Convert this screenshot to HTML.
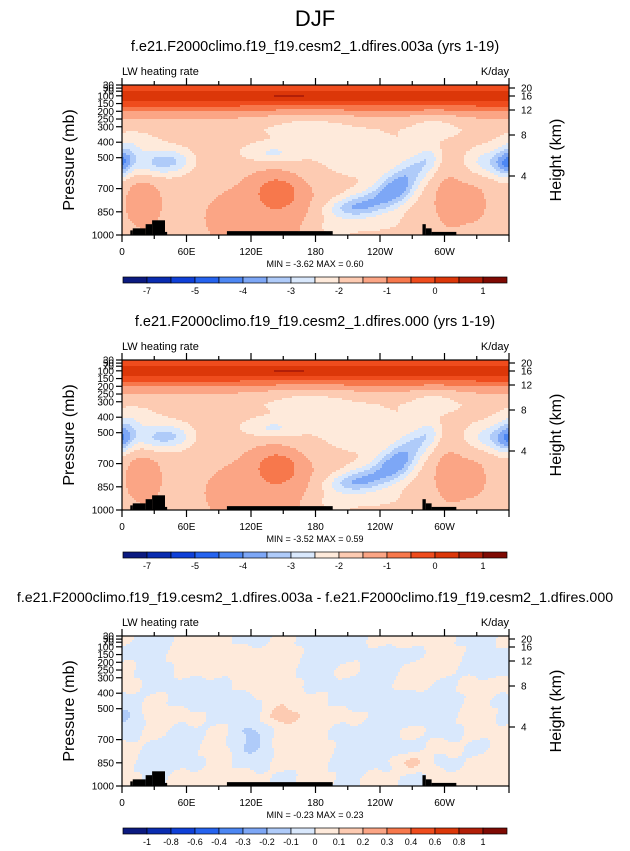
<!DOCTYPE html>
<html><head><meta charset="utf-8"><style>
html,body{margin:0;padding:0;background:#fff;}
svg{display:block;font-family:"Liberation Sans",Arial,sans-serif;}
</style></head><body>
<svg id="fig" width="630" height="851" viewBox="0 0 630 851" xmlns="http://www.w3.org/2000/svg">
<text x="315" y="26" text-anchor="middle" font-size="22">DJF</text>
</svg>
<script>
// ---- data ----
const pLabels=[30,50,70,100,150,200,250,300,400,500,700,850,1000];
const hLabels=[20,16,12,8,4];
const hPos=[3,11,25,50,91];
const lonTicks=[0,60,120,180,240,300];
const lonLabels=['0','60E','120E','180','120W','60W'];
const colors=['#0b1a80','#0a2cb0','#0f40d8','#2563ef','#4d87f3','#7da7f6','#afcbf9','#d9e8fc','#feeadb','#fdcbb2','#fba585','#f7784c','#ef4c1d','#dc3709','#b21f08','#7f0a03'];
const levelsAbs=[-7,-6,-5,-4.5,-4,-3.5,-3,-2.5,-2,-1.5,-1,-0.5,0,0.5,1];
const cbLabelsAbs=['-7','','-5','','-4','','-3','','-2','','-1','','0','','1'];
const levelsDiff=[-1,-0.8,-0.6,-0.4,-0.3,-0.2,-0.1,0,0.1,0.2,0.3,0.4,0.6,0.8,1];
const cbLabelsDiff=['-1','-0.8','-0.6','-0.4','-0.3','-0.2','-0.1','0','0.1','0.2','0.3','0.4','0.6','0.8','1'];
// base vertical profile
const profP=[30,60,80,100,130,160,190,220,260,320,400,500,600,700,850,1000];
const profV=[-0.3,-0.1,0.2,0.3,0.1,-0.4,-0.9,-1.3,-1.6,-1.85,-1.85,-1.85,-1.85,-1.8,-1.75,-1.75];
// blobs: lon, p, amplitude, lon-width, p-width
const blobs1=[
 [170,300,-0.45,30,70],[290,300,-0.45,18,60],[215,480,-0.45,30,110],[12,400,-0.35,15,50],
 [3,500,-1.0,9,60],[33,530,-1.3,14,60],[52,520,-0.6,10,50],[140,470,-0.85,20,45],[345,530,-1.1,16,60],[358,560,-0.9,7,60],
 [210,830,-1.1,16,45],[230,790,-1.3,16,55],[250,720,-1.55,12,65],[262,650,-1.2,10,65],[275,560,-0.9,10,65],[286,500,-0.7,7,55],
 [145,720,0.75,13,70],[140,800,0.55,35,220],[20,770,0.55,14,150],[305,770,0.55,12,150],[330,780,0.35,10,130],[95,900,0.45,12,90],
 [195,950,-0.4,15,60],[235,930,-0.3,30,60],[155,100,0.4,12,10]];
const blobs2=[
 [170,300,-0.45,30,70],[290,300,-0.45,18,60],[215,480,-0.45,30,110],[12,400,-0.35,15,50],
 [3,500,-1.0,9,60],[33,530,-1.25,14,60],[52,520,-0.6,10,50],[140,470,-0.85,20,45],[345,530,-1.05,16,60],[358,560,-0.9,7,60],
 [210,830,-1.1,16,45],[230,790,-1.3,16,55],[250,720,-1.5,12,65],[262,650,-1.2,10,65],[275,560,-0.9,10,65],[286,500,-0.7,7,55],
 [145,720,0.75,13,70],[140,800,0.55,35,220],[20,770,0.55,14,150],[305,770,0.55,12,150],[330,780,0.35,10,130],[95,900,0.45,12,90],
 [195,950,-0.4,15,60],[235,930,-0.3,30,60],[155,100,0.4,12,10]];
// difference field coarse grid
const dLons=[0,30,60,90,120,150,180,210,240,270,300,330,360];
const dPs=[50,150,250,350,450,550,650,750,850,950];
const dRows=[
 [.02,-.03,.03,.03,-.03,.03,-.03,-.03,.03,.03,.02,-.02,.02],
 [-.02,-.03,.03,.03,.03,.03,-.03,-.03,-.03,-.03,.03,-.03,-.02],
 [.03,-.03,.03,.03,.05,.03,-.03,.03,-.03,.03,.03,-.03,-.03],
 [.03,-.03,-.03,-.03,.03,.03,-.03,-.03,-.03,.03,-.03,.03,.03],
 [-.05,.03,-.03,-.03,-.02,.08,.03,-.03,-.03,-.08,-.03,.03,-.02],
 [-.12,.03,.03,-.03,-.03,.15,.03,.03,-.03,-.08,-.03,.03,-.03],
 [-.03,.03,-.03,.03,-.12,.03,.03,-.03,-.03,.03,-.03,.03,.03],
 [.03,-.03,-.03,.03,-.12,.03,.03,-.03,-.08,-.03,.03,-.03,.03],
 [.03,-.03,-.03,.03,-.03,.03,.03,-.03,-.03,.12,-.03,.03,.03],
 [.03,-.03,.03,.03,.03,-.03,.03,-.03,.03,-.03,.03,.03,.03]];
// topography: lon0, lon1, top pressure
const topo=[[7.7,10,970],[10,22,957],[22,28,930],[28,40,905],[40,42,980],[97.6,196,975],[279.5,282.6,930],[282.6,288,957],[288,311,980]];
const panels=[
 {title:'f.e21.F2000climo.f19_f19.cesm2_1.dfires.003a (yrs 1-19)',min:'-3.62',max:'0.60',off:0,kind:'abs',blobs:blobs1},
 {title:'f.e21.F2000climo.f19_f19.cesm2_1.dfires.000 (yrs 1-19)',min:'-3.52',max:'0.59',off:275,kind:'abs',blobs:blobs2},
 {title:'f.e21.F2000climo.f19_f19.cesm2_1.dfires.003a - f.e21.F2000climo.f19_f19.cesm2_1.dfires.000',min:'-0.23',max:'0.23',off:551,kind:'diff'}];
</script>
<script>
const NS='http://www.w3.org/2000/svg';
const svg=document.getElementById('fig');
const X0=122,X1=509,PH=150;
function mk(tag,attrs,parent){const e=document.createElementNS(NS,tag);for(const k in attrs)e.setAttribute(k,attrs[k]);(parent||svg).appendChild(e);return e;}
function xS(lon){return X0+lon/360*(X1-X0);}
function yS(p,top){return top+(p-30)/970*PH;}
function interp(xs,ys,x){if(x<=xs[0])return ys[0];for(let i=1;i<xs.length;i++){if(x<=xs[i]){const t=(x-xs[i-1])/(xs[i]-xs[i-1]);return ys[i-1]+t*(ys[i]-ys[i-1]);}}return ys[ys.length-1];}
function fieldAbs(blobs,lon,p){let v=interp(profP,profV,p);for(const b of blobs){let d=Math.abs(lon-b[0]);d=Math.min(d,360-d);v+=b[2]*Math.exp(-(d*d)/(2*b[3]*b[3])-((p-b[1])*(p-b[1]))/(2*b[4]*b[4]));}return v;}
function sm(t){t=Math.max(0,Math.min(1,t));return t*t*(3-2*t);}
function fieldDiff(lon,p){
 let i=0;while(i<dLons.length-2&&lon>dLons[i+1])i++;
 let j=0;while(j<dPs.length-2&&p>dPs[j+1])j++;
 let tx=sm((lon-dLons[i])/(dLons[i+1]-dLons[i]));let ty=sm((p-dPs[j])/(dPs[j+1]-dPs[j]));
 const a=dRows[j][i],b=dRows[j][i+1],c=dRows[j+1][i],d=dRows[j+1][i+1];
 return a*(1-tx)*(1-ty)+b*tx*(1-ty)+c*(1-tx)*ty+d*tx*ty+0.012*Math.sin(lon*0.21+p*0.031);}
function box(v,lv){let k=0;while(k<lv.length&&v>=lv[k])k++;return k;}
panels.forEach((P,pi)=>{
 const top=85+P.off;
 const g=mk('g',{});
 
 
 const t=mk('text',{x:315,y:51+P.off,'text-anchor':'middle','font-size':pi==2?14.2:14.5},g);t.textContent=P.title;
 
 const l=mk('text',{x:X0,y:75+P.off,'font-size':11},g);l.textContent='LW heating rate';
 
 const u=mk('text',{x:X1,y:75+P.off,'font-size':11,'text-anchor':'end'},g);u.textContent='K/day';
 
 const lv=P.kind=='abs'?levelsAbs:levelsDiff;
 const cg=mk('g',{'shape-rendering':'crispEdges'},g);
 
 const cs=2,nx=Math.ceil((X1-X0)/cs),ny=PH/cs;
 for(let r=0;r<ny;r++){
  const p=30+(r+0.5)*cs/PH*970;
  let start=0,cur=-1;
  for(let c=0;c<=nx;c++){
   let k=-2;
   if(c<nx){const lon=(c+0.5)*cs/(X1-X0)*360;const v=P.kind=='abs'?fieldAbs(P.blobs,lon,p):fieldDiff(lon,p);k=box(v,lv);}
   if(k!==cur){
    if(cur>=0){const w=Math.min((c)*cs,X1-X0)-start*cs;const rc=mk('rect',{x:X0+start*cs,y:top+r*cs,width:w,height:cs,fill:colors[cur]},cg);
     }
    cur=k;start=c;}
  }
 }
 topo.forEach(s=>{const r=mk('rect',{x:xS(s[0]),y:yS(s[2],top),width:xS(s[1])-xS(s[0]),height:top+PH-yS(s[2],top),fill:'#000'},g);
  });
 const fr=mk('rect',{x:X0,y:top,width:X1-X0,height:PH,fill:'none',stroke:'#000','stroke-width':1.2},g);
 
 for(let lon=0;lon<=360;lon+=30){const x=xS(lon);const len=lon%60==0?7:4;
  const a=mk('line',{x1:x,x2:x,y1:top+PH,y2:top+PH+len,stroke:'#000','stroke-width':1.2},g);
  const b=mk('line',{x1:x,x2:x,y1:top,y2:top-len,stroke:'#000','stroke-width':1.2},g);}
 lonTicks.forEach((lon,i)=>{const tx=mk('text',{x:xS(lon),y:top+PH+20,'font-size':10,'text-anchor':'middle'},g);tx.textContent=lonLabels[i];
  });
 pLabels.forEach(p=>{const y=yS(p,top);const a=mk('line',{x1:X0-6,x2:X0,y1:y,y2:y,stroke:'#000','stroke-width':1.2},g);
  
  const tx=mk('text',{x:X0-8,y:y+3.5,'font-size':10,'text-anchor':'end'},g);tx.textContent=p;
  });
 hLabels.forEach((h,i)=>{const y=top+hPos[i];const a=mk('line',{x1:X1,x2:X1+6,y1:y,y2:y,stroke:'#000','stroke-width':1.2},g);
  
  const tx=mk('text',{x:X1+12,y:y+3.5,'font-size':10},g);tx.textContent=h;
  });
 const ya=mk('text',{x:0,y:0,'font-size':16,'text-anchor':'middle',transform:`translate(74,${top+75}) rotate(-90)`},g);ya.textContent='Pressure (mb)';
 
 const ha=mk('text',{x:0,y:0,'font-size':16,'text-anchor':'middle',transform:`translate(561,${top+75}) rotate(-90)`},g);ha.textContent='Height (km)';
 
 const mm=mk('text',{x:315,y:top+PH+32,'font-size':9,'text-anchor':'middle'},g);mm.textContent='MIN = '+P.min+'  MAX = '+P.max;
 
 const cby=277+P.off,cbx=123,bw=24;
 colors.forEach((c,i)=>{const r=mk('rect',{x:cbx+i*bw,y:cby,width:bw,height:6,fill:c,stroke:'#000','stroke-width':0.7},g);
  });
 const lbs=P.kind=='abs'?cbLabelsAbs:cbLabelsDiff;
 lbs.forEach((s,i)=>{if(!s)return;const tx=mk('text',{x:cbx+(i+1)*bw,y:cby+17,'font-size':9,'text-anchor':'middle'},g);tx.textContent=s;
  });
});
</script>
</body></html>
